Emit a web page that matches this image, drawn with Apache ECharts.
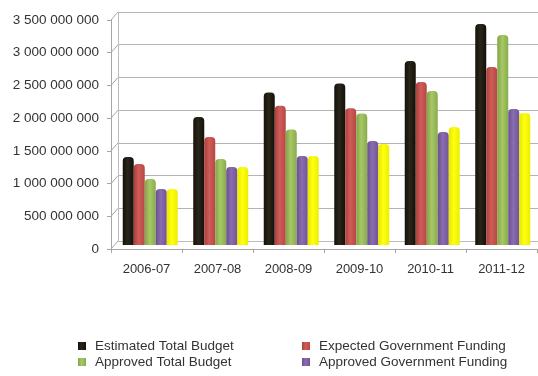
<!DOCTYPE html>
<html>
<head>
<meta charset="utf-8">
<script src="https://cdn.jsdelivr.net/npm/echarts@6/dist/echarts.min.js"></script>
<style>
  html, body { margin: 0; padding: 0; background: #ffffff; }
  #chart { width: 538px; height: 376px; }
</style>
</head>
<body>
<div id="chart"></div>
<script>
// Budget figures per fiscal year
const years = ['2006-07', '2007-08', '2008-09', '2009-10', '2010-11', '2011-12'];
const estimatedTotalBudget = [1346000000, 1957000000, 2330000000, 2470000000, 2813000000, 3379000000];
const expectedGovFunding = [1239000000, 1651000000, 2130000000, 2090000000, 2492000000, 2722000000];
const approvedTotalBudget = [1009000000, 1315000000, 1765000000, 2010000000, 2355000000, 3211000000];
const approvedGovFunding = [856000000, 1193000000, 1360000000, 1590000000, 1728000000, 2080000000];
const approvedOtherFunding = [856000000, 1193000000, 1360000000, 1545000000, 1804000000, 2018000000];
const yTicks = [0, 500000000, 1000000000, 1500000000, 2000000000, 2500000000, 3000000000, 3500000000];

const font = 'Liberation Sans, Arial, sans-serif';
const axisGrey = '#a6a6a6';

function spaced(v) {
  return String(Math.round(v)).replace(/\B(?=(\d{3})+(?!\d))/g, ' ');
}

function shade(c) {
  // subtle cylinder shading across each bar
  return {
    type: 'linear', x: 0, y: 0, x2: 1, y2: 0,
    colorStops: [
      { offset: 0, color: c[0] },
      { offset: 0.45, color: c[1] },
      { offset: 1, color: c[2] }
    ]
  };
}

const seriesDefs = [
  { name: 'Estimated Total Budget', data: estimatedTotalBudget, c: ['#14110a', '#2a261a', '#14110a'] },
  { name: 'Expected Government Funding', data: expectedGovFunding, c: ['#a8403d', '#d05c58', '#b54845'] },
  { name: 'Approved Total Budget', data: approvedTotalBudget, c: ['#83a347', '#a6c866', '#8aab4c'] },
  { name: 'Approved Government Funding', data: approvedGovFunding, c: ['#6a5090', '#8a6db0', '#705595'] },
  { name: 'Approved Other Funding', data: approvedOtherFunding, c: ['#e6e600', '#ffff10', '#eded00'] }
];

// legend slots: [series index, left, top]
const legendSlots = [[0, 78, 339], [1, 302, 339], [2, 78, 355], [3, 302, 355]];

const chart = echarts.init(document.getElementById('chart'), null, { renderer: 'canvas' });

const option = {
  animation: false,
  backgroundColor: '#ffffff',
  grid: [
    // front plane: axis labels
    { left: 111, right: 1, top: 20, bottom: 127 },
    // back wall: gridlines
    { left: 118, right: -6, top: 12, bottom: 135 },
    // bars sit between the two planes
    { left: 115, right: -3, top: 16, bottom: 131 }
  ],
  xAxis: [
    {
      gridIndex: 0, type: 'category', data: years,
      axisLine: { lineStyle: { color: axisGrey } },
      axisTick: { show: true, alignWithLabel: false, length: 4, lineStyle: { color: axisGrey } },
      axisLabel: { color: '#333333', fontFamily: font, fontSize: 13, margin: 14 }
    },
    {
      gridIndex: 1, type: 'category', data: years,
      axisLine: { lineStyle: { color: '#bdbdbd' } },
      axisTick: { show: false }, axisLabel: { show: false }
    },
    {
      gridIndex: 2, type: 'category', data: years, show: false
    }
  ],
  yAxis: [
    {
      gridIndex: 0, type: 'value', min: 0, max: 3500000000, interval: 500000000,
      axisLine: { show: true, lineStyle: { color: axisGrey } },
      axisTick: { show: true, length: 4, lineStyle: { color: axisGrey } },
      splitLine: { show: false },
      axisLabel: { color: '#333333', fontFamily: font, fontSize: 13.5, margin: 12, formatter: spaced }
    },
    {
      gridIndex: 1, type: 'value', min: 0, max: 3500000000, interval: 500000000,
      axisLine: { show: true, lineStyle: { color: '#bdbdbd' } },
      axisTick: { show: false }, axisLabel: { show: false },
      splitLine: { show: true, lineStyle: { color: '#b3b3b3', width: 1 } }
    },
    {
      gridIndex: 2, type: 'value', min: 0, max: 3500000000, interval: 500000000, show: false,
      splitLine: { show: false }
    }
  ],
  legend: legendSlots.map(([i, l, t]) => ({
    data: [seriesDefs[i].name],
    left: l, top: t, padding: 0,
    itemWidth: 8, itemHeight: 8, itemGap: 0,
    icon: 'rect',
    textStyle: { color: '#333333', fontFamily: font, fontSize: 13.5, padding: [0, 0, 0, 4] }
  })),
  series: seriesDefs.map(s => ({
    name: s.name,
    type: 'bar',
    xAxisIndex: 2,
    yAxisIndex: 2,
    data: s.data,
    barWidth: 11,
    barGap: '0%',
    color: s.c[1],
    itemStyle: { color: shade(s.c), borderRadius: [4, 4, 0, 0] }
  }))
};

chart.setOption(option);

// perspective ticks joining the front axis to the back wall
const frontX = option.grid[0].left;
const backX = option.grid[1].left;
const links = yTicks.map(v => {
  const yf = chart.convertToPixel({ yAxisIndex: 0 }, v);
  const yb = chart.convertToPixel({ yAxisIndex: 1 }, v);
  return {
    type: 'line', silent: true,
    shape: { x1: frontX, y1: yf, x2: backX, y2: yb },
    style: { stroke: axisGrey, lineWidth: 1 }
  };
});
chart.setOption({ graphic: { elements: links } });
</script>
</body>
</html>
